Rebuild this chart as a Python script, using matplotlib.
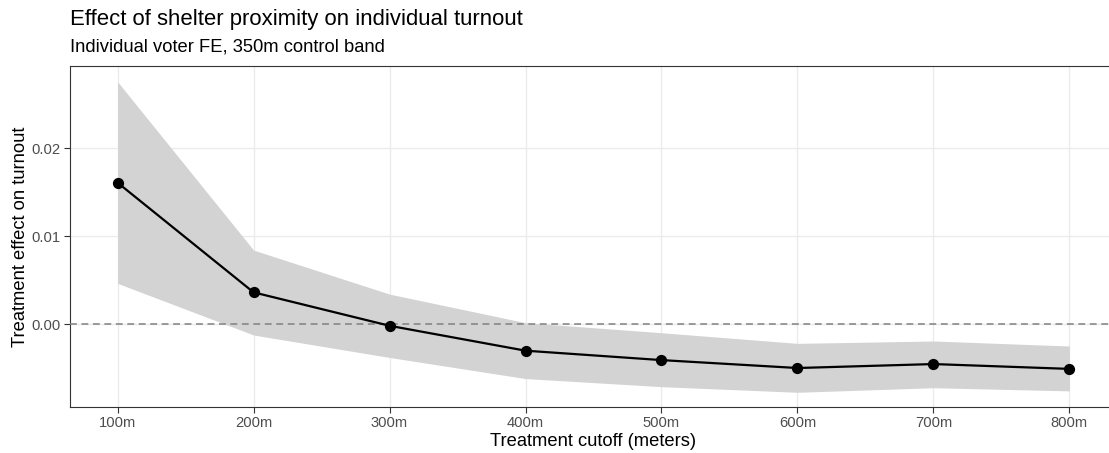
import matplotlib.pyplot as plt
from matplotlib.ticker import FixedLocator

# Treatment effect estimates by cutoff distance, with 95% CI bounds
cutoffs = [100, 200, 300, 400, 500, 600, 700, 800]
cutoff_labels = ['100m', '200m', '300m', '400m', '500m', '600m', '700m', '800m']
estimate = [0.01606, 0.00360, -0.00020, -0.00303, -0.00410, -0.00500, -0.00455, -0.00510]
ci_upper = [0.02753, 0.00840, 0.00340, 0.00015, -0.00099, -0.00220, -0.00193, -0.00250]
ci_lower = [0.00462, -0.00125, -0.00380, -0.00620, -0.00712, -0.00776, -0.00724, -0.00760]
y_ticks = [0.00, 0.01, 0.02]

plt.rcParams['font.family'] = ['Liberation Sans', 'DejaVu Sans']

fig = plt.figure(figsize=(11.09, 4.53), dpi=100)
ax = fig.add_axes([70 / 1109, 1 - 407 / 453, (1117 - 70) / 1109, (407 - 66) / 453])

ax.fill_between(cutoffs, ci_lower, ci_upper, color='#d3d3d3', linewidth=0, zorder=2)
ax.axhline(0, color='#808080', linestyle=(0, (4.5, 3)), linewidth=1.1, zorder=3)
ax.plot(cutoffs, estimate, color='black', linewidth=1.6, zorder=4)
ax.scatter(cutoffs, estimate, s=50, color='black', zorder=5)

ax.set_xlim(65, 835)
ax.set_ylim(-0.00943, 0.02932)
ax.xaxis.set_major_locator(FixedLocator(cutoffs))
ax.set_xticklabels(cutoff_labels)
ax.set_yticks(y_ticks)
ax.set_yticklabels([f'{v:.2f}' for v in y_ticks])

ax.grid(True, color='#ebebeb', linewidth=1.0, zorder=0)
ax.set_axisbelow(True)
for spine in ax.spines.values():
    spine.set_color('#333333')
    spine.set_linewidth(0.8)
ax.tick_params(axis='both', colors='#333333', length=4, width=0.8,
               labelsize=10.6, labelcolor='#4d4d4d', pad=2.5)

ax.set_xlabel('Treatment cutoff (meters)', fontsize=13.2, labelpad=2)
ax.set_ylabel('Treatment effect on turnout', fontsize=13.2, labelpad=2)

fig.text(70 / 1109, 1 - 19 / 453, 'Effect of shelter proximity on individual turnout',
         fontsize=15.9, va='center', ha='left')
fig.text(70 / 1109, 1 - 47 / 453, 'Individual voter FE, 350m control band',
         fontsize=13.2, va='center', ha='left')

fig.savefig('out.png', dpi=100)
